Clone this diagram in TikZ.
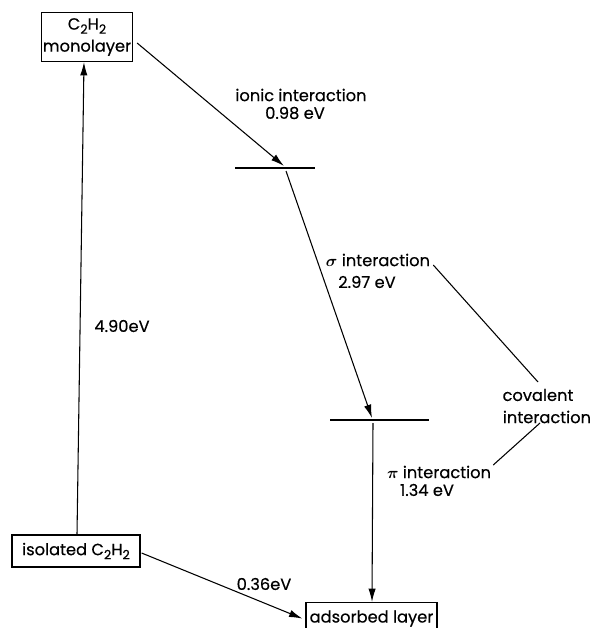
\documentclass[tikz,border=0pt]{standalone}
\usepackage{bm}
\usepackage{fontspec}
\setmainfont{Poppins}[FakeBold=0.4]
\usetikzlibrary{arrows.meta,calc}
\newcommand\lowtwo{\raisebox{-0.45ex}{\fontsize{9.5}{9.5}\selectfont 2}}
\tikzset{
  box/.style={draw, line width=0.9pt, inner sep=0pt, align=center, font=\fontsize{12.2}{15}\selectfont},
  lbl/.style={inner sep=0pt, font=\fontsize{12.2}{15}\selectfont},
  arr/.style={line width=0.8pt, -{Latex[length=10pt,width=5.5pt]}},
  ln/.style={line width=0.8pt},
  lev/.style={line width=1.3pt}
}
\begin{document}
\begin{tikzpicture}[x=0.75pt,y=-0.75pt]
\clip (0,0) rectangle (596,628);
\fill[white] (0,0) rectangle (596,628);
% boxes
\node[box, minimum width=68.25pt, minimum height=36.75pt] (mono) at (87,37) {C\lowtwo H\lowtwo\\[1.5pt]monolayer};
\node[box, minimum width=96pt, minimum height=24pt] (iso) at (76,551) {isolated C\lowtwo H\lowtwo};
\node[box, minimum width=98.25pt, minimum height=24pt, anchor=north] (ads) at (371.5,602) {adsorbed layer};
% levels
\coordinate (L1) at (285,168);
\coordinate (L2) at (372,420);
\coordinate (L1l) at (235,168);
\coordinate (L1r) at (315,168);
\coordinate (L2l) at (330,420);
\coordinate (L2r) at (429,420);
\draw[lev] (L1l) -- (L1r);
\draw[lev] (L2l) -- (L2r);
% arrows
\draw[arr] ([xshift=0.75pt]iso.north) -- ([xshift=-2.25pt]mono.south);
\draw[arr] ($(mono.east)+(4,6)$) -- ($(L1)+(-1,-2)$);
\draw[arr] ($(L1)+(1,3)$) -- ($(L2)+(0,-2)$);
\draw[arr] ($(L2)+(1,3)$) -- (ads.north -| L2);
\draw[arr] ($(iso.east)+(1,2)$) -- ($(ads.west)+(-3,0)$);
% labels
\node[lbl] (ionic) at (301,95) {ionic interaction};
\node[lbl] (e1) at (295,113) {0.98 eV};
\node[lbl] (sig) at (378,260) {$\bm{\sigma}$ interaction};
\node[lbl] (e2) at (367,282) {2.97 eV};
\node[lbl] (cov1) at (538,395) {covalent};
\node[lbl] (cov2) at (547,417) {interaction};
\node[lbl] (pi) at (439,472) {$\bm{\pi}$ interaction};
\node[lbl] (e3) at (427,490) {1.34 eV};
\node[lbl] (e4) at (122,326) {4.90eV};
\node[lbl] (e5) at (264,584) {0.36eV};
% covalent connectors
\coordinate (c1) at (538,382);
\coordinate (c2) at (540,423);
\draw[ln] ($(sig.east)+(3,5)$) -- (c1);
\draw[ln] (c2) -- ($(pi.east)+(2,-7)$);
\end{tikzpicture}
\end{document}
